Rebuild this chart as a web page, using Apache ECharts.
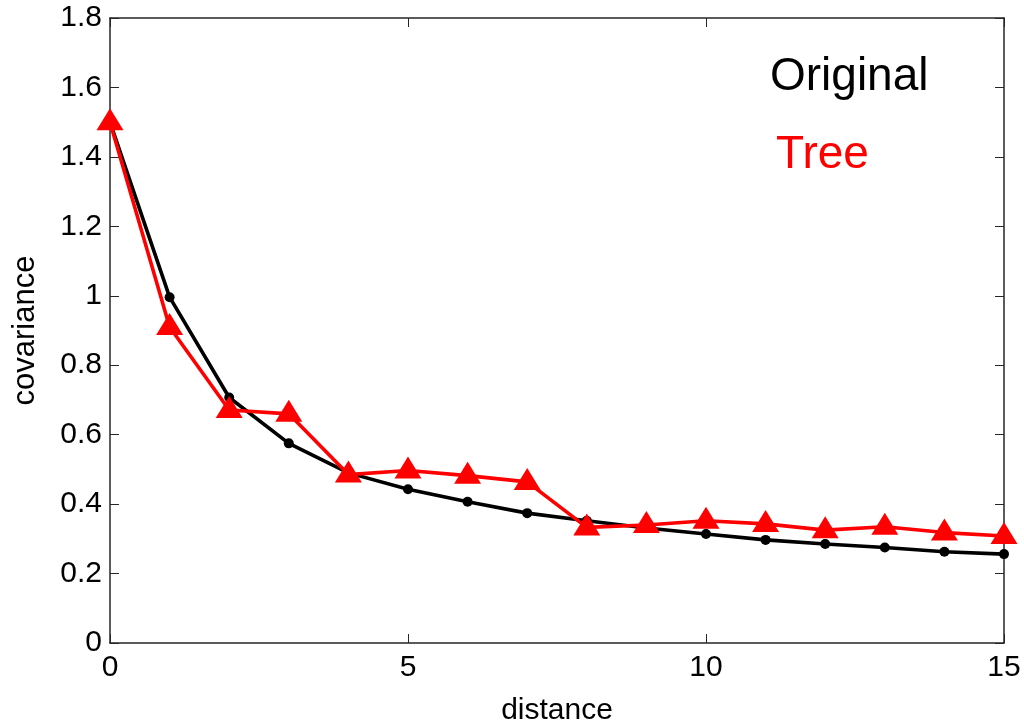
<!DOCTYPE html>
<html>
<head>
<meta charset="utf-8">
<script src="https://cdn.jsdelivr.net/npm/echarts@6/dist/echarts.min.js"></script>
<style>
html,body{margin:0;padding:0;background:#fff;}
#chart{width:1024px;height:724px;}
</style>
</head>
<body>
<div id="chart"></div>
<script>
const distance = [0,1,2,3,4,5,6,7,8,9,10,11,12,13,14,15];
const originalValues = [1.5,0.996,0.707,0.575,0.49,0.443,0.407,0.374,0.352,0.331,0.314,0.297,0.285,0.275,0.263,0.256];
const treeValues = [1.5,0.91,0.671,0.66,0.485,0.497,0.482,0.464,0.333,0.34,0.352,0.343,0.325,0.335,0.318,0.308];
const xTicks = [0,5,10,15];
const yTicks = [0,0.2,0.4,0.6,0.8,1,1.2,1.4,1.6,1.8];
const seriesNames = ['Original','Tree'];

const pairs = (ys) => distance.map((x,i)=>[x, ys[i]]);
const font = '"Liberation Sans", Arial, sans-serif';
const axisColor = '#262626';

const chart = echarts.init(document.getElementById('chart'), null, {renderer:'canvas'});
const option = {
  backgroundColor:'#ffffff',
  animation:false,
  grid:{left:110,right:20,top:18,bottom:81,containLabel:false,outerBoundsMode:'none'},
  legend:{
    orient:'vertical',
    left:760, top:48,
    icon:'none',
    itemWidth:0, itemHeight:0,
    itemGap:30,
    selectedMode:false,
    data:[
      {name:seriesNames[0], textStyle:{color:'#000000'}},
      {name:seriesNames[1], textStyle:{color:'#ff0000', padding:[0,0,0,6]}}
    ],
    textStyle:{fontFamily:font,fontSize:46,lineHeight:48}
  },
  xAxis:[{
    type:'value', min:xTicks[0], max:xTicks[xTicks.length-1], interval:5,
    name:'distance', nameLocation:'middle', nameGap:53,
    nameTextStyle:{fontFamily:font,fontSize:30,color:'#000'},
    axisLine:{show:true,onZero:false,lineStyle:{color:axisColor,width:1.5}},
    axisTick:{show:true,inside:true,length:9,lineStyle:{color:axisColor,width:1}},
    axisLabel:{fontFamily:font,fontSize:30,color:'#000',margin:10},
    splitLine:{show:false}
  },{
    type:'value', position:'top', min:xTicks[0], max:xTicks[xTicks.length-1], interval:5,
    axisLine:{show:true,onZero:false,lineStyle:{color:axisColor,width:1.5}},
    axisTick:{show:true,inside:true,length:9,lineStyle:{color:axisColor,width:1}},
    axisLabel:{show:false},
    splitLine:{show:false}
  }],
  yAxis:[{
    type:'value', min:yTicks[0], max:yTicks[yTicks.length-1], interval:0.2,
    name:'covariance', nameLocation:'middle', nameGap:69, nameRotate:90,
    nameTextStyle:{fontFamily:font,fontSize:31,color:'#000'},
    axisLine:{show:true,onZero:false,lineStyle:{color:axisColor,width:1.5}},
    axisTick:{show:true,inside:true,length:9,lineStyle:{color:axisColor,width:1}},
    axisLabel:{fontFamily:font,fontSize:30,color:'#000',margin:8,
      formatter:(v)=>String(Math.round(v*10)/10)},
    splitLine:{show:false}
  },{
    type:'value', position:'right', min:yTicks[0], max:yTicks[yTicks.length-1], interval:0.2,
    axisLine:{show:true,onZero:false,lineStyle:{color:axisColor,width:1.5}},
    axisTick:{show:true,inside:true,length:9,lineStyle:{color:axisColor,width:1}},
    axisLabel:{show:false},
    splitLine:{show:false}
  }],
  series:[
    {
      name:seriesNames[0], type:'line', xAxisIndex:0, yAxisIndex:0,
      data:pairs(originalValues),
      symbol:'circle', symbolSize:10,
      lineStyle:{color:'#000000',width:3.6},
      itemStyle:{color:'#000000'},
      z:2
    },
    {
      name:seriesNames[1], type:'line', xAxisIndex:0, yAxisIndex:0,
      data:pairs(treeValues),
      symbol:'triangle', symbolSize:[27,22], symbolOffset:[0,-3],
      lineStyle:{color:'#ff0000',width:3.6},
      itemStyle:{color:'#ff0000'},
      z:3
    }
  ]
};
chart.setOption(option);
</script>
</body>
</html>
